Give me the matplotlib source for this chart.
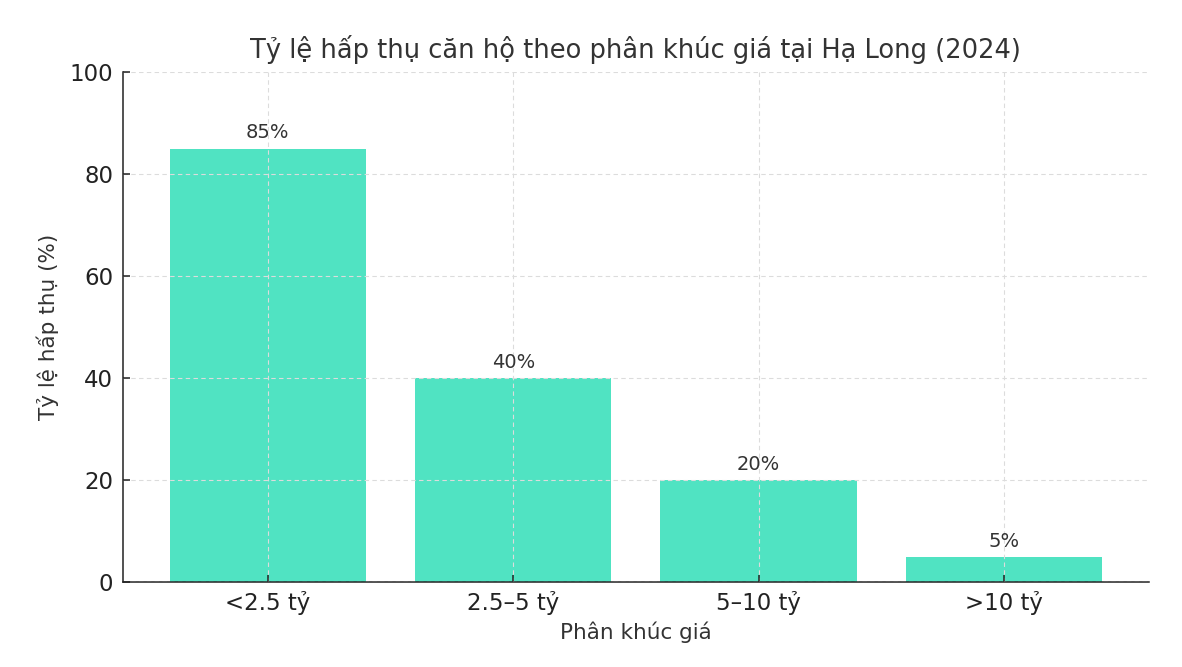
import matplotlib.pyplot as plt

categories = ['<2.5 tỷ', '2.5–5 tỷ', '5–10 tỷ', '>10 tỷ']
absorption = [85, 40, 20, 5]

bar_color = '#50e3c2'
text_color = '#333333'


def main():
  fig, ax = plt.subplots(figsize=[11.82, 6.67], dpi=100)

  bars = ax.bar(categories, absorption, color=bar_color, width=0.8, zorder=1)
  for rect, v in zip(bars, absorption):
    ax.text(rect.get_x() + rect.get_width() / 2, v + 1.2, f'{v}%',
            ha='center', va='bottom', fontsize=14, color=text_color)

  ax.set_ylim(0, 100)
  ax.grid(True, linestyle=(0, (4, 3)), color='#dcdcdc', linewidth=0.8, zorder=2)
  ax.set_axisbelow(False)
  for s in ['top', 'right']:
    ax.spines[s].set_visible(False)
  for s in ['left', 'bottom']:
    ax.spines[s].set_color('#222222')
    ax.spines[s].set_linewidth(1.1)

  ax.tick_params(labelsize=16.5, colors='#222222', width=1.1, length=5,
                 direction='in', pad=7)
  ax.tick_params(axis='x', pad=6)
  ax.set_title('Tỷ lệ hấp thụ căn hộ theo phân khúc giá tại Hạ Long (2024)',
               fontsize=18.5, color=text_color, pad=10)
  ax.set_xlabel('Phân khúc giá', fontsize=15.5, color=text_color, labelpad=5)
  ax.set_ylabel('Tỷ lệ hấp thụ (%)', fontsize=15.5, color=text_color, labelpad=7.5)

  fig.subplots_adjust(left=0.104, right=0.972, top=0.892, bottom=0.127)
  fig.savefig('out.png')


if __name__ == '__main__':
  main()
